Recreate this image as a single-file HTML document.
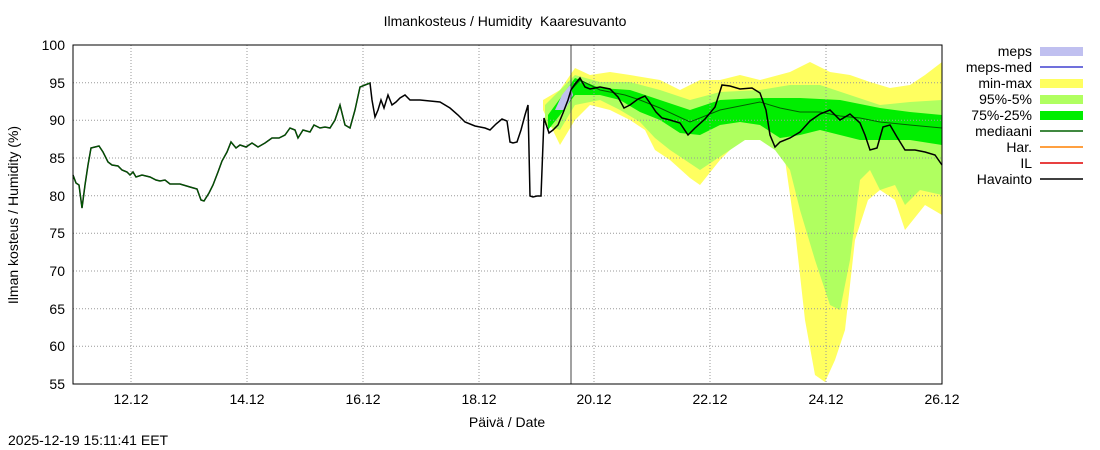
<!DOCTYPE html>
<html><head><meta charset="utf-8"><style>
body{margin:0;background:#fff;}
svg{display:block;font-family:"Liberation Sans",sans-serif;}
</style></head><body>
<svg width="1100" height="450" viewBox="0 0 1100 450">
<rect width="1100" height="450" fill="#fff"/>
<text x="505" y="26" font-size="14" text-anchor="middle">Ilmankosteus / Humidity&#160; Kaaresuvanto</text>
<!-- bands -->
<polygon fill="#ffff60" points="543,100 560,90 575,68 590,75 610,72 630,75 660,80 680,90 700,80 720,80 740,75 760,80 790,72 810,62 830,72 850,75 870,82 890,88 910,85 925,75 942,62 942,215 925,205 905,230 895,200 880,190 868,200 855,240 845,330 835,360 825,382 815,375 805,320 795,230 785,160 770,140 755,135 740,140 720,160 700,185 690,178 670,160 655,150 645,130 630,120 610,110 590,105 575,120 560,145 543,110"/>
<polygon fill="#b0ff60" points="545,105 575,75 600,82 630,82 660,90 690,100 720,92 760,90 790,85 820,85 850,95 880,105 910,102 942,100 942,195 920,190 905,205 895,185 880,190 870,170 860,180 850,260 840,310 830,305 815,260 800,210 790,170 775,150 760,140 745,140 730,150 715,160 700,170 685,160 670,150 655,138 640,122 620,110 600,100 575,105 560,130 545,125"/>
<polygon fill="#00ee00" points="548,115 575,78 600,88 630,90 660,100 690,110 720,100 760,98 800,98 840,100 880,108 910,112 942,115 942,145 910,140 880,140 860,140 840,135 820,130 800,135 780,138 760,125 740,122 720,125 700,135 680,133 660,120 640,112 620,100 600,95 575,95 560,115 548,130"/>
<polygon fill="#c0c0f0" points="555,110 562,95 570,85 573,95 565,110"/>
<!-- grid -->
<g stroke="#999" stroke-dasharray="1,2" stroke-width="1">
<line x1="73" x2="942" y1="82.7" y2="82.7"/><line x1="73" x2="942" y1="120.3" y2="120.3"/><line x1="73" x2="942" y1="158" y2="158"/><line x1="73" x2="942" y1="195.7" y2="195.7"/><line x1="73" x2="942" y1="233.3" y2="233.3"/><line x1="73" x2="942" y1="271" y2="271"/><line x1="73" x2="942" y1="308.7" y2="308.7"/><line x1="73" x2="942" y1="346.3" y2="346.3"/>
<line x1="131" x2="131" y1="45" y2="384"/><line x1="247" x2="247" y1="45" y2="384"/><line x1="363" x2="363" y1="45" y2="384"/><line x1="479" x2="479" y1="45" y2="384"/><line x1="594" x2="594" y1="45" y2="384"/><line x1="710" x2="710" y1="45" y2="384"/><line x1="826" x2="826" y1="45" y2="384"/>
</g>
<line x1="571" x2="571" y1="45" y2="384" stroke="#444" stroke-width="1"/>
<!-- median forecast -->
<polyline fill="none" stroke="#006000" stroke-width="1" points="571,90 580,80 600,90 625,95 640,100 660,108 690,122 720,110 760,102 780,108 800,112 820,112 840,116 860,118 880,122 910,125 942,128"/>
<!-- observation -->
<polyline fill="none" stroke="#000" stroke-width="1.5" points="73,175 76,183 79,185 82,208 85,185 88,165 91,148 95,147 99,146 103,152 108,162 112,165 118,166 122,170 127,172 130,175 133,172 136,177 142,175 150,177 156,180 160,181 165,180 170,184 180,184 190,187 197,189 201,200 204,201 209,193 213,185 218,172 222,161 227,152 231,142 236,148 240,145 246,147 252,143 258,147 265,143 272,138 279,138 285,135 290,128 295,130 298,138 303,130 310,132 314,125 320,128 325,127 330,128 335,120 340,105 345,125 350,128 355,110 360,87 365,85 370,83 372,100 375,117 378,110 381,100 384,108 388,95 392,105 396,102 400,98 405,95 410,100 420,100 430,101 440,102 450,108 458,115 465,122 475,126 485,128 490,130 496,124 502,119 507,121 510,142 513,143 517,142 521,130 525,115 528,105 530,196 533,197 537,196 541,196 544,118 549,133 553,130 558,125 563,113 568,100 571,90 575,84 580,78 585,87 590,89 600,87 610,89 618,97 624,108 630,105 638,99 645,96 650,103 656,112 662,118 670,120 680,123 688,135 695,128 705,119 715,107 722,85 730,86 740,89 752,88 760,93 766,110 770,135 775,147 780,142 790,138 800,132 810,121 820,114 830,110 840,120 850,114 860,123 865,135 870,150 877,148 883,127 890,125 897,137 905,150 915,150 925,152 935,155 942,165"/>
<polyline fill="none" stroke="#006000" stroke-width="1" points="73,175 76,183 79,185 82,208 85,185 88,165 91,148 95,147 99,146 103,152 108,162 112,165 118,166 122,170 127,172 130,175 133,172 136,177 142,175 150,177 156,180 160,181 165,180 170,184 180,184 190,187 197,189 201,200 204,201 209,193 213,185 218,172 222,161 227,152 231,142 236,148 240,145 246,147 252,143 258,147 265,143 272,138 279,138 285,135 290,128 295,130 298,138 303,130 310,132 314,125 320,128 325,127 330,128 335,120 340,105 345,125 350,128 355,110 360,87 365,85 370,83"/>
<!-- frame -->
<rect x="73" y="45" width="869" height="339" fill="none" stroke="#000" stroke-width="1"/>
<g font-size="14" text-anchor="end">
<text x="65" y="50">100</text><text x="65" y="88">95</text><text x="65" y="125">90</text><text x="65" y="163">85</text><text x="65" y="201">80</text><text x="65" y="238">75</text><text x="65" y="276">70</text><text x="65" y="314">65</text><text x="65" y="351">60</text><text x="65" y="389">55</text>
</g>
<g font-size="14" text-anchor="middle">
<text x="131" y="404">12.12</text><text x="247" y="404">14.12</text><text x="363" y="404">16.12</text><text x="479" y="404">18.12</text><text x="594" y="404">20.12</text><text x="710" y="404">22.12</text><text x="826" y="404">24.12</text><text x="942" y="404">26.12</text>
<text x="507" y="427">Päivä / Date</text>
</g>
<text transform="translate(18,215) rotate(-90)" font-size="14" text-anchor="middle">Ilman kosteus / Humidity (%)</text>
<text x="8" y="445" font-size="14">2025-12-19 15:11:41 EET</text>
<!-- legend -->
<g font-size="14" text-anchor="end">
<text x="1032" y="56">meps</text><text x="1032" y="72">meps-med</text><text x="1032" y="88">min-max</text><text x="1032" y="104">95%-5%</text><text x="1032" y="120">75%-25%</text><text x="1032" y="136">mediaani</text><text x="1032" y="152">Har.</text><text x="1032" y="168">IL</text><text x="1032" y="184">Havainto</text>
</g>
<rect x="1040" y="47" width="43" height="9" fill="#c0c0f0"/>
<line x1="1040" x2="1083" y1="67" y2="67" stroke="#4040d0" stroke-width="1.5"/>
<rect x="1040" y="79" width="43" height="9" fill="#ffff60"/>
<rect x="1040" y="95" width="43" height="9" fill="#b0ff60"/>
<rect x="1040" y="111" width="43" height="9" fill="#00ee00"/>
<line x1="1040" x2="1083" y1="131" y2="131" stroke="#006000" stroke-width="1.5"/>
<line x1="1040" x2="1083" y1="147" y2="147" stroke="#ff8000" stroke-width="1.5"/>
<line x1="1040" x2="1083" y1="163" y2="163" stroke="#e00000" stroke-width="1.5"/>
<line x1="1040" x2="1083" y1="179" y2="179" stroke="#000" stroke-width="1.5"/>
</svg>
</body></html>
